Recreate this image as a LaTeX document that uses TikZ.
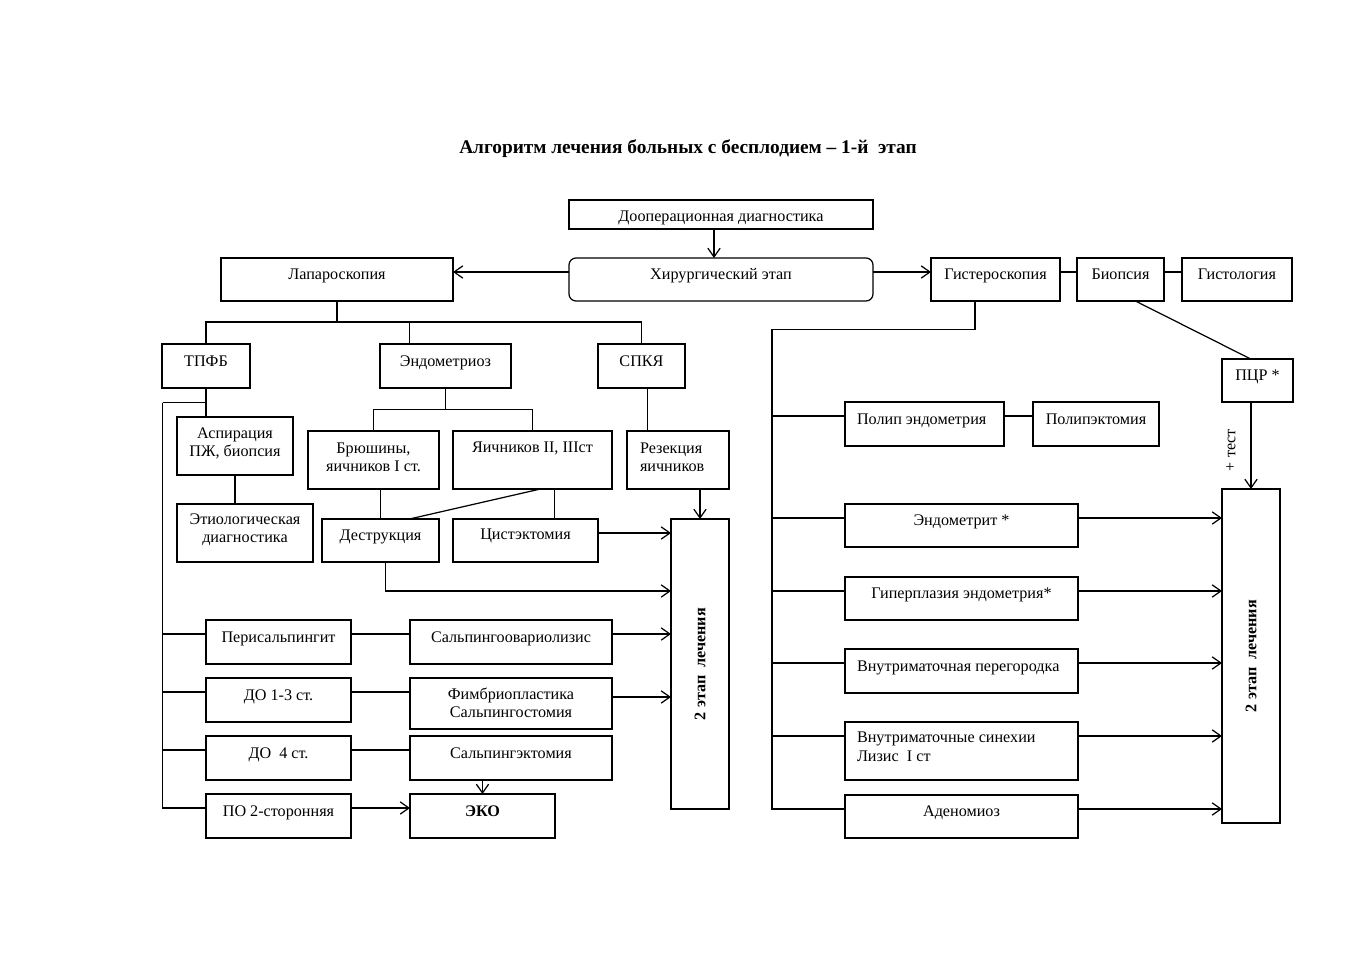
\documentclass[tikz,border=0pt]{standalone}
\usepackage{fontspec}
\setmainfont{Liberation Serif}
\usetikzlibrary{arrows.meta,calc}
\newlength\upx \setlength\upx{0.02cm}
\newcommand\bxt[2][0]{\raisebox{#1\upx}[0pt][0pt]{#2}}
\newcommand\bxc[2][0]{\raisebox{#1\upx}[0pt][0pt]{\begin{tabular}[b]{@{}c@{}}#2\end{tabular}}}
\newcommand\bxl[3]{\makebox[#1\upx][l]{\raisebox{#2\upx}[0pt][0pt]{\begin{tabular}[b]{@{}l@{}}#3\end{tabular}}}}
\newcommand\bx[7][]{\node[box,#1,minimum width={(#5-#3)*\upx},minimum height={(#6-#4)*\upx}] (#2) at ({(#3+#5)/2},{(#4+#6)/2}) {#7};}
\tikzset{
  box/.style={draw,line width=0.7pt,inner sep=0pt,outer sep=0pt},
  arr/.style={-{Straight Barb[length=5pt,width=7pt,line width=0.7pt]}},
  t14/.style={yshift=-14\upx}
}
\begin{document}
\begin{tikzpicture}[x=0.02cm,y=-0.02cm,font=\fontsize{9.2}{10.5}\selectfont,line width=0.7pt]
\fill[white] (0,0) rectangle (1357,960);
\useasboundingbox (0,0) rectangle (1357,960);

\node[font=\fontsize{11}{13}\selectfont\bfseries] (title) at (688,149) {Алгоритм лечения больных с бесплодием – 1-й\ \ этап};

% top
\bx{doop}{569}{200}{873}{229}{\bxt[-6.5]{Дооперационная диагностика}}
\bx[rounded corners=7\upx]{hir}{569}{258}{873}{301}{\bxt{Хирургический этап}}
\bx{lap}{221}{258}{453}{301}{\bxt{Лапароскопия}}
\bx{gist}{931}{258}{1060}{301}{\bxt{Гистероскопия}}
\bx{biop}{1077}{258}{1164}{301}{\bxt{Биопсия}}
\bx{gistol}{1182}{258}{1292}{301}{\bxt{Гистология}}

% left part
\bx{tpfb}{162}{344}{250}{388}{\bxt{ТПФБ}}
\bx{endo}{380}{344}{511}{388}{\bxt{Эндометриоз}}
\bx{spkya}{598}{344}{685}{388}{\bxt{СПКЯ}}
\bx{asp}{177}{417}{293}{475}{\bxc[-10.7]{Аспирация\\ПЖ, биопсия}}
\bx{brush}{308}{431}{439}{489}{\bxc[-11.7]{Брюшины,\\яичников I ст.}}
\bx{yaich}{453}{431}{612}{489}{\bxt[7.3]{Яичников II, IIIст}}
\bx{rez}{627}{431}{729}{489}{\bxl{76}{-11.7}{Резекция\\яичников}}
\bx{etiol}{177}{504}{313}{562}{\bxc[-9.7]{Этиологическая\\диагностика}}
\bx{destr}{322}{519}{439}{562}{\bxt{Деструкция}}
\bx{tsist}{453}{519}{598}{562}{\bxt[1]{Цистэктомия}}
\bx{etap1}{671}{519}{729}{809}{\rotatebox{90}{\bfseries 2 этап\ \ лечения}}
\bx{peri}{206}{620}{351}{664}{\bxt{Перисальпингит}}
\bx{salpov}{410}{620}{612}{664}{\bxt{Сальпингоовариолизис}}
\bx{do13}{206}{678}{351}{722}{\bxt{ДО 1-3 ст.}}
\bx{fimb}{410}{678}{612}{729}{\bxc[-14.2]{Фимбриопластика\\Сальпингостомия}}
\bx{do4}{206}{736}{351}{780}{\bxt{ДО\ \ 4 ст.}}
\bx{salpe}{410}{736}{612}{780}{\bxt{Сальпингэктомия}}
\bx{po}{206}{794}{351}{838}{\bxt{ПО 2-сторонняя}}
\bx{eko}{410}{794}{555}{838}{\bxt{\bfseries ЭКО}}

% right part
\bx{pcr}{1222}{359}{1293}{402}{\bxt{ПЦР *}}
\bx{polip}{845}{402}{1004}{446}{\bxl{135}{0}{Полип эндометрия}}
\bx{polipek}{1033}{402}{1159}{446}{\bxt{Полипэктомия}}
\bx{endomt}{845}{504}{1078}{547}{\bxt{Эндометрит *}}
\bx{giperpl}{845}{577}{1078}{620}{\bxt{Гиперплазия эндометрия*}}
\bx{vnper}{845}{649}{1078}{693}{\bxl{209}{0}{Внутриматочная перегородка}}
\bx{vnsin}{845}{722}{1078}{780}{\bxl{209}{-10}{Внутриматочные синехии\\Лизис\ \ I ст}}
\bx{adeno}{845}{795}{1078}{838}{\bxt{Аденомиоз}}
\bx{etap2}{1222}{489}{1280}{823}{\rotatebox{90}{\bfseries 2 этап\ \ лечения}}
\node[rotate=90] (plus) at (1231,450) {+ тест};

% top connectors
\draw[arr] (doop.south -| 714,0) -- (hir.north -| 714,0);
\path ([t14]hir.north west) coordinate (h1) ([t14]hir.north east) coordinate (h2);
\draw[arr] (h1) -- (h1 -| lap.east);
\draw[arr] (h2) -- (h2 -| gist.west);
\draw (h2 -| gist.east) -- (h2 -| biop.west);
\draw (h2 -| biop.east) -- (h2 -| gistol.west);

% laparoscopy tree
\coordinate (busA) at (206,322);
\draw (lap.south) -- (lap.south |- busA);
\draw (tpfb.north) |- (spkya.north |- busA) -- (spkya.north);
\draw (endo.north -| 409.5,0) -- (busA -| 409.5,0);

% TPFB branch
\coordinate (lb) at (162.6,402.7);
\draw (tpfb.south) -- (tpfb.south |- asp.north);
\draw (tpfb.south |- lb) -- (lb);
\draw (asp.south) -- (asp.south |- etiol.north);
\path ([t14]peri.north west) coordinate (p1) ([t14]do13.north west) coordinate (p2)
      ([t14]do4.north west) coordinate (p3) ([t14]po.north west) coordinate (p4);
\draw (lb) |- (p4);
\draw (lb) |- (p1);
\draw (lb) |- (p2);
\draw (lb) |- (p3);
\draw (p1 -| peri.east) -- (p1 -| salpov.west);
\draw[arr] (p1 -| salpov.east) -- (p1 -| etap1.west);
\draw (p2 -| do13.east) -- (p2 -| fimb.west);
\path ([yshift=-19\upx]fimb.north east) coordinate (f1);
\draw[arr] (f1) -- (f1 -| etap1.west);
\draw (p3 -| do4.east) -- (p3 -| salpe.west);
\draw[arr] (p4 -| po.east) -- (p4 -| eko.west);
\draw[arr] (eko.north |- salpe.south) -- (eko.north);

% endometriosis branch
\coordinate (eb) at (445.8,409.7);
\draw (endo.south) -- (endo.south |- eb);
\draw (brush.north) |- (yaich.north |- eb) -- (yaich.north);
\draw (destr.north |- brush.south) -- (destr.north);
\draw (yaich.south -| 540.4,0) -- (destr.north -| 409.5,0);
\draw (yaich.south -| 554.5,0) -- (tsist.north -| 554.5,0);
\path ([t14]tsist.north east) coordinate (c1);
\draw[arr] (c1) -- (c1 -| etap1.west);
\draw[arr] (destr.south -| 385.7,0) |- (etap1.west |- 0,591);

% SPKYa branch
\draw (spkya.south -| 647.5,0) -- (rez.north -| 647.5,0);
\draw[arr] (etap1.north |- rez.south) -- (etap1.north);

% hysteroscopy tree
\coordinate (rb) at (772,329.3);
\draw (gist.south -| 975,0) |- (rb);
\path ([t14]polip.north west) coordinate (r1) ([t14]endomt.north west) coordinate (r2)
      ([t14]giperpl.north west) coordinate (r3) ([t14]vnper.north west) coordinate (r4)
      ([t14]vnsin.north west) coordinate (r5) ([t14]adeno.north west) coordinate (r6);
\draw (rb) |- (r6);
\foreach \r in {r1,r2,r3,r4,r5} \draw (rb) |- (\r);
\draw (r1 -| polip.east) -- (r1 -| polipek.west);
\draw[arr] (r2 -| endomt.east) -- (r2 -| etap2.west);
\draw[arr] (r3 -| giperpl.east) -- (r3 -| etap2.west);
\draw[arr] (r4 -| vnper.east) -- (r4 -| etap2.west);
\draw[arr] (r5 -| vnsin.east) -- (r5 -| etap2.west);
\draw[arr] (r6 -| adeno.east) -- (r6 -| etap2.west);
\draw (biop.south -| 1135.4,0) -- (pcr.north -| 1250.7,0);
\draw[arr] (etap2.north |- pcr.south) -- (etap2.north);
\end{tikzpicture}
\end{document}
